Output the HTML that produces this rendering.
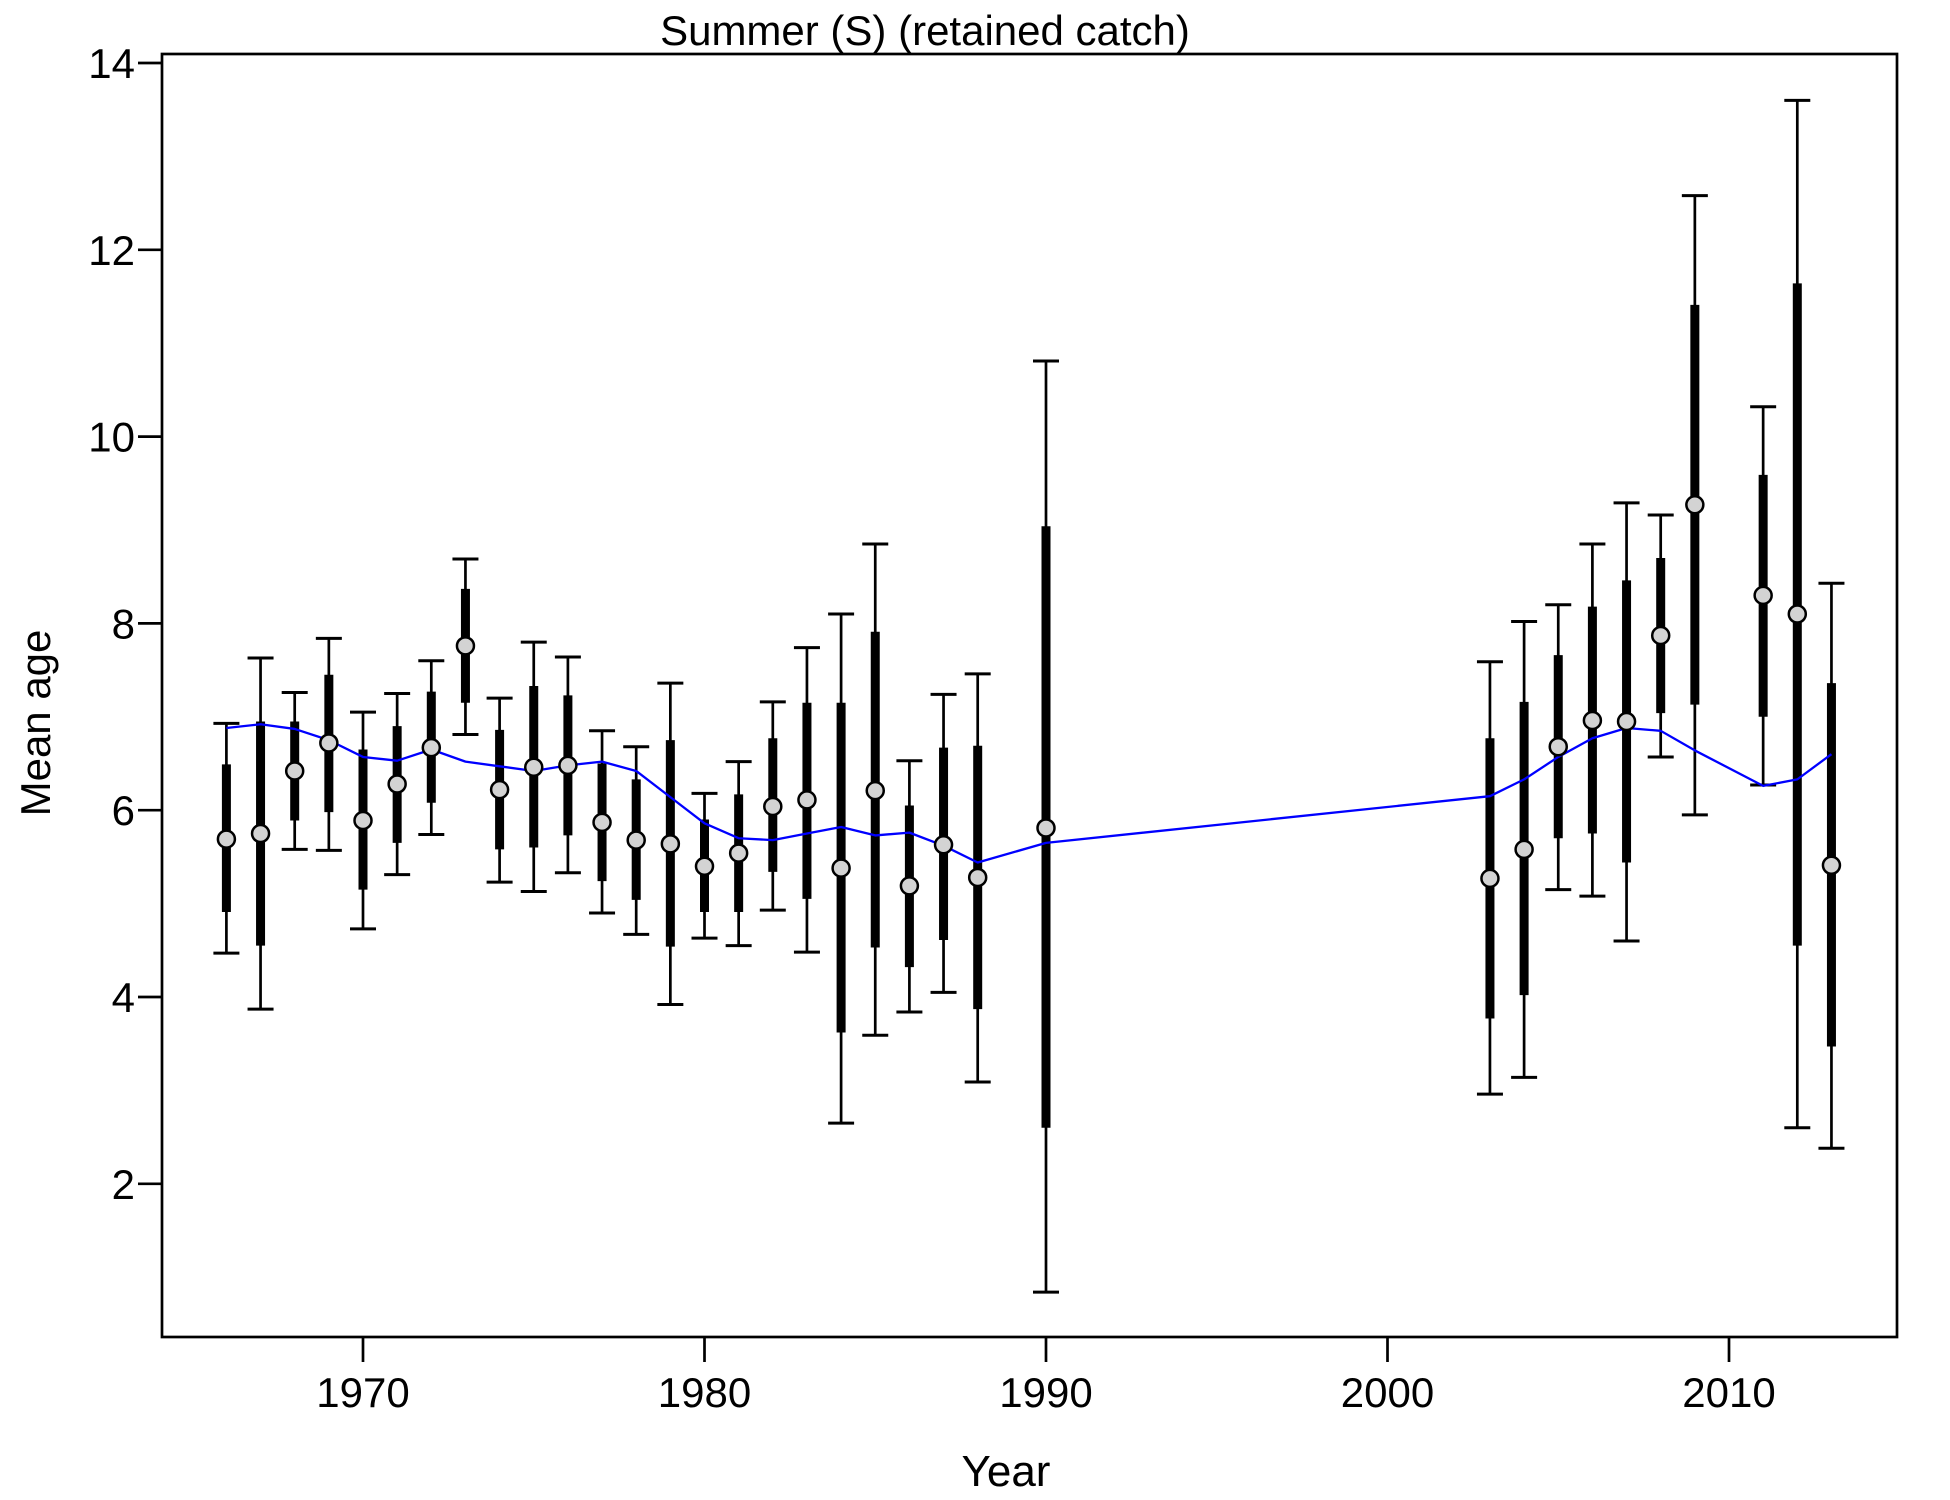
<!DOCTYPE html>
<html><head><meta charset="utf-8"><style>
html,body{margin:0;padding:0;background:#fff;}
svg{display:block;font-family:"Liberation Sans",sans-serif;}
</style></head><body>
<svg id="chart" width="1950" height="1500" viewBox="0 0 1950 1500">
<rect x="162" y="54" width="1735" height="1283" fill="none" stroke="#000" stroke-width="2.7"/>
<text x="925" y="45" font-size="42" text-anchor="middle">Summer (S) (retained catch)</text>
<text x="1006" y="1486" font-size="44" text-anchor="middle">Year</text>
<text x="0" y="0" font-size="42" text-anchor="middle" transform="translate(50,723) rotate(-90)">Mean age</text>
<g id="axes"></g><g id="marks"></g>
</svg>
<script>
const years=[1966,1967,1968,1969,1970,1971,1972,1973,1974,1975,1976,1977,1978,1979,1980,1981,1982,1983,1984,1985,1986,1987,1988,1990,2003,2004,2005,2006,2007,2008,2009,2011,2012,2013];
const means=[5.69,5.75,6.42,6.72,5.89,6.28,6.67,7.76,6.22,6.46,6.48,5.87,5.68,5.64,5.40,5.54,6.04,6.11,5.38,6.21,5.19,5.63,5.28,5.81,5.27,5.58,6.68,6.96,6.95,7.87,9.27,8.30,8.10,5.41];
const innerLo=[4.91,4.55,5.89,5.98,5.15,5.65,6.08,7.15,5.58,5.60,5.73,5.24,5.04,4.54,4.91,4.91,5.34,5.05,3.62,4.53,4.32,4.61,3.87,2.60,3.77,4.02,5.70,5.75,5.44,7.04,7.13,7.00,4.55,3.47];
const innerHi=[6.49,6.95,6.95,7.45,6.65,6.90,7.27,8.37,6.86,7.33,7.23,6.50,6.33,6.75,5.90,6.17,6.77,7.15,7.15,7.91,6.05,6.67,6.69,9.04,6.77,7.16,7.66,8.18,8.46,8.70,11.41,9.59,11.64,7.36];
const outerLo=[4.47,3.87,5.58,5.57,4.73,5.31,5.74,6.81,5.23,5.13,5.33,4.90,4.67,3.92,4.63,4.55,4.93,4.48,2.65,3.59,3.84,4.05,3.09,0.84,2.96,3.14,5.15,5.08,4.60,6.57,5.95,6.27,2.60,2.38];
const outerHi=[6.93,7.63,7.26,7.84,7.05,7.25,7.60,8.69,7.20,7.80,7.64,6.85,6.68,7.36,6.18,6.52,7.16,7.74,8.10,8.85,6.53,7.24,7.46,10.81,7.59,8.02,8.20,8.85,9.29,9.16,12.58,10.32,13.60,8.43];
const smooth=[6.88,6.92,6.87,6.75,6.57,6.53,6.65,6.52,6.47,6.42,6.48,6.52,6.42,6.14,5.86,5.70,5.68,5.75,5.82,5.73,5.76,5.62,5.44,5.65,6.15,6.33,6.57,6.77,6.88,6.85,6.64,6.26,6.33,6.60];
const xTicks=[1970,1980,1990,2000,2010];
const yTicks=[2,4,6,8,10,12,14];
const NS='http://www.w3.org/2000/svg';
function X(yr){return 363+(yr-1970)*34.15;}
function Y(v){return 63+(14-v)*93.4;}
function mk(tag,attrs,parent){const e=document.createElementNS(NS,tag);for(const k in attrs)e.setAttribute(k,attrs[k]);parent.appendChild(e);return e;}
const axes=document.getElementById('axes'),marks=document.getElementById('marks');
xTicks.forEach(t=>{
  const l=mk('line',{x1:X(t),x2:X(t),y1:1337,y2:1362,stroke:'#000','stroke-width':2.7},axes);
  
  
  const tx=mk('text',{x:X(t),y:1407,'font-size':42,'text-anchor':'middle'},axes);tx.textContent=t;
  
  
});
yTicks.forEach(t=>{
  const l=mk('line',{x1:138,x2:162,y1:Y(t),y2:Y(t),stroke:'#000','stroke-width':2.7},axes);
  
  
  const tx=mk('text',{x:135,y:Y(t)+15,'font-size':42,'text-anchor':'end'},axes);tx.textContent=t;
  
  
});
years.forEach((yr,i)=>{
  const x=X(yr);
  const w=mk('line',{x1:x,x2:x,y1:Y(outerLo[i]),y2:Y(outerHi[i]),stroke:'#000','stroke-width':2.7},marks);
  
  
  [outerLo[i],outerHi[i]].forEach(v=>{
    const c=mk('line',{x1:x-13,x2:x+13,y1:Y(v),y2:Y(v),stroke:'#000','stroke-width':3},marks);
    
    
  });
  const b=mk('line',{x1:x,x2:x,y1:Y(innerLo[i]),y2:Y(innerHi[i]),stroke:'#000','stroke-width':9},marks);
  
  
});
const pl=mk('polyline',{points:years.map((yr,i)=>X(yr)+','+Y(smooth[i])).join(' '),fill:'none',stroke:'#0000ff','stroke-width':2.3,'stroke-linejoin':'round'},marks);


years.forEach((yr,i)=>{
  const c=mk('circle',{cx:X(yr),cy:Y(means[i]),r:8.5,fill:'#d3d3d3',stroke:'#000','stroke-width':2.5},marks);
  
  
});
</script>
</body></html>
